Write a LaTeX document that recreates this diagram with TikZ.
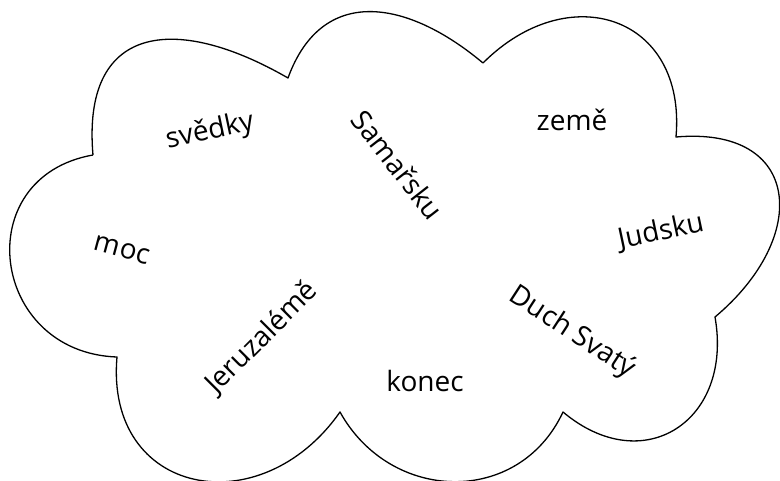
\documentclass[tikz,border=0pt]{standalone}
\usepackage{fontspec}
\setmainfont{Open Sans}
\usepackage{tikz}

\begin{document}
\begin{tikzpicture}[x=1pt, y=1pt, line join=round]
        \tikzstyle{wordStyle} = [font=\fontsize{28}{32}\selectfont, inner sep=0pt]
        \tikzstyle{cloudEdge} = [draw=black, line width=1.3pt]
        \useasboundingbox (0,0) rectangle (780,480);
        % cusps of the cloud
        \coordinate (a) at (93,325);
        \coordinate (b) at (288,402);
        \coordinate (c) at (483,417);
        \coordinate (d) at (676,343);
        \coordinate (e) at (715,163);
        \coordinate (f) at (563,68);
        \coordinate (g) at (340,68);
        \coordinate (h) at (117,123);
        \path[cloudEdge] (a) to[out=95, in=150, looseness=1.6] (b)
            to[out=70, in=140, looseness=1.3] (c)
            to[out=45, in=85, looseness=1.5] (d)
            to[out=5, in=40, looseness=1.75] (e)
            to[out=-80, in=-40, looseness=1.5] (f)
            to[out=-115, in=-61, looseness=1.2] (g)
            to[out=-125, in=-95, looseness=1.55] (h)
            to[out=178, in=190, looseness=1.6] (a);
        % words
        \node[wordStyle, rotate=12] (svedky) at (210,348) {svědky};
        \node[wordStyle, rotate=-52] (samarsku) at (398,315) {Samařsku};
        \node[wordStyle] (zeme) at (572,360) {země};
        \node[wordStyle, rotate=12] (judsku) at (661,248) {Judsku};
        \node[wordStyle, rotate=-15] (moc) at (122,230) {moc};
        \node[wordStyle, rotate=45] (jeruzaleme) at (262,142) {Jeruzalémě};
        \node[wordStyle] (konec) at (425,99) {konec};
        \node[wordStyle, rotate=-33] (duch) at (572,147) {Duch Svatý};
    \end{tikzpicture}
\end{document}
